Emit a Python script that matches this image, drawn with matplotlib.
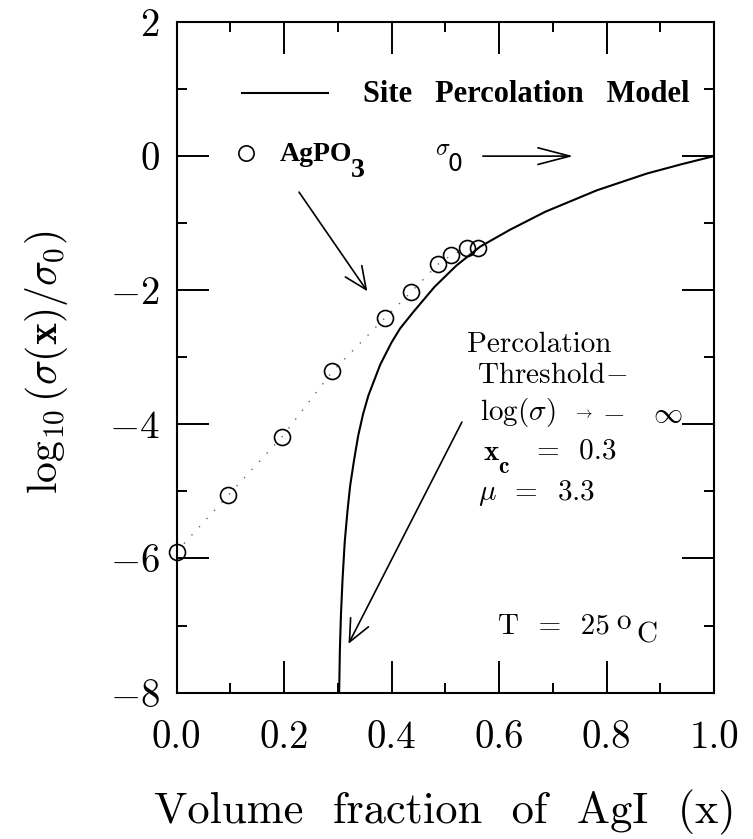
import matplotlib
matplotlib.use("Agg")
import matplotlib.pyplot as plt
from matplotlib.ticker import FixedLocator, MultipleLocator

plt.rcParams["mathtext.fontset"] = "cm"
plt.rcParams["font.family"] = ["cmr10", "DejaVu Serif"]
plt.rcParams["axes.unicode_minus"] = False

# Measured conductivity of AgI-AgPO3 glasses at 25 C
agi_fraction = [0.0, 0.096, 0.196, 0.29, 0.388, 0.436, 0.487, 0.511, 0.54, 0.561]
log_sigma_ratio = [-5.90, -5.06, -4.19, -3.21, -2.41, -2.03, -1.61, -1.48, -1.37, -1.37]

# Site percolation model curve (x_c = 0.3, mu = 3.3)
model_x = [0.3026, 0.304, 0.306, 0.309, 0.313, 0.318, 0.323, 0.33, 0.338, 0.347,
           0.357, 0.379, 0.40, 0.416, 0.44, 0.48, 0.521, 0.565, 0.62, 0.686,
           0.782, 0.875, 0.94, 1.0]
model_y = [-8.0, -7.35, -6.83, -6.30, -5.75, -5.30, -4.92, -4.55, -4.17, -3.85,
           -3.57, -3.11, -2.78, -2.57, -2.33, -1.95, -1.63, -1.35, -1.10, -0.83,
           -0.51, -0.26, -0.12, 0.0]

x_ticks = [0.0, 0.2, 0.4, 0.6, 0.8, 1.0]
x_tick_labels = ["0.0", "0.2", "0.4", "0.6", "0.8", "1.0"]
y_ticks = [-8, -6, -4, -2, 0, 2]
y_tick_labels = [r"$-8$", r"$-6$", r"$-4$", r"$-2$", r"$0$", r"$2$"]

W, H = 753, 839
fig = plt.figure(figsize=(W / 100, H / 100), dpi=100)
ax = fig.add_axes([176.5 / W, 1 - 692.6 / H, 537.5 / W, 670.6 / H])

ax.set_xlim(0.0, 1.0)
ax.set_ylim(-8, 2)

# data points with a dotted guide through them
ax.plot(agi_fraction[:-1], log_sigma_ratio[:-1], linestyle=(0, (1, 7)),
        color="0.4", linewidth=1.0, zorder=2)
ax.plot(agi_fraction, log_sigma_ratio, linestyle="none", marker="o",
        markersize=11.5, markerfacecolor="none", markeredgecolor="black",
        markeredgewidth=1.2, zorder=3, clip_on=False)

# model curve
ax.plot(model_x, model_y, color="black", linewidth=1.5, zorder=3)

# axes styling
for s in ax.spines.values():
    s.set_linewidth(1.5)
ax.xaxis.set_major_locator(FixedLocator(x_ticks))
ax.set_xticklabels(x_tick_labels)
ax.xaxis.set_minor_locator(MultipleLocator(0.1))
ax.yaxis.set_major_locator(FixedLocator(y_ticks))
ax.set_yticklabels(y_tick_labels)
ax.yaxis.set_minor_locator(MultipleLocator(1))
ax.tick_params(which="both", direction="in", top=True, right=True, width=1.4)
ax.tick_params(which="major", length=23)
ax.tick_params(which="minor", length=7)
ax.tick_params(axis="x", which="major", labelsize=28, pad=20)
ax.tick_params(axis="y", which="major", labelsize=28, pad=12)

# axis titles
fig.text(445 / W, 1 - 812 / H, "Volume  fraction  of  AgI  (x)", fontsize=32,
         ha="center", va="center")
fig.text(47 / W, 1 - 362 / H, r"$\log_{10}(\sigma(\mathbf{x})/\sigma_0)$",
         fontsize=30, rotation=90, ha="center", va="center")

# legend entries
ax.plot([0.121, 0.281], [0.94, 0.94], color="black", linewidth=1.5)
ax.text(0.347, 0.92, "Site   Percolation   Model", fontsize=22,
        family="Liberation Serif", weight="bold", ha="left", va="center")
ax.plot([0.129], [0.045], marker="o", markersize=11, markerfacecolor="none",
        markeredgecolor="black", markeredgewidth=1.2)
ax.text(0.193, 0.03, "AgPO", fontsize=20, family="Liberation Serif",
        weight="bold", ha="left", va="center")
ax.text(0.324, -0.21, "3", fontsize=20, family="Liberation Serif",
        weight="bold", ha="left", va="center")

# sigma_0 marker
ax.text(0.481, 0.10, r"$\sigma$", fontsize=17, ha="left", va="center")
ax.text(0.504, -0.12, "0", fontsize=17, family="DejaVu Sans", ha="left",
        va="center")

arrow_kw = dict(color="black", lw=1.2, shrinkA=0, shrinkB=0, mutation_scale=10)
ax.annotate("", xy=(0.738, 0.0), xytext=(0.570, 0.0),
            arrowprops=dict(arrowstyle="->,head_length=2.3,head_width=0.6", **arrow_kw))
ax.annotate("", xy=(0.355, -2.015), xytext=(0.228, -0.537),
            arrowprops=dict(arrowstyle="->,head_length=1.6,head_width=0.72", **arrow_kw))
ax.annotate("", xy=(0.320, -7.273), xytext=(0.531, -3.966),
            arrowprops=dict(arrowstyle="->,head_length=1.6,head_width=0.72", **arrow_kw))

# threshold annotation
fs = 21
ax.text(0.540, -2.82, "Percolation", fontsize=fs, ha="left", va="center")
ax.text(0.559, -3.27, r"Threshold$-$", fontsize=fs, ha="left", va="center")
ax.text(0.565, -3.82, r"log($\sigma$)", fontsize=fs, ha="left", va="center")
ax.text(0.738, -3.84, r"$\rightarrow$", fontsize=12, ha="left", va="center")
ax.text(0.792, -3.84, r"$-$", fontsize=fs, ha="left", va="center")
ax.text(0.886, -3.86, r"$\infty$", fontsize=fs, ha="left", va="center")
ax.text(0.570, -4.42, r"$\mathbf{x}$", fontsize=fs, ha="left", va="center")
ax.text(0.598, -4.64, r"$\mathbf{c}$", fontsize=17, ha="left", va="center")
ax.text(0.671, -4.40, r"=  0.3", fontsize=fs, ha="left", va="center")
ax.text(0.561, -5.03, r"$\mu$  =  3.3", fontsize=fs, ha="left", va="center")

ax.text(0.598, -7.01, "T  =  25", fontsize=fs, ha="left", va="center")
ax.text(0.818, -6.94, "o", fontsize=fs, ha="left", va="center")
ax.text(0.855, -7.15, "C", fontsize=fs, ha="left", va="center")

fig.savefig("out.png", dpi=100)
